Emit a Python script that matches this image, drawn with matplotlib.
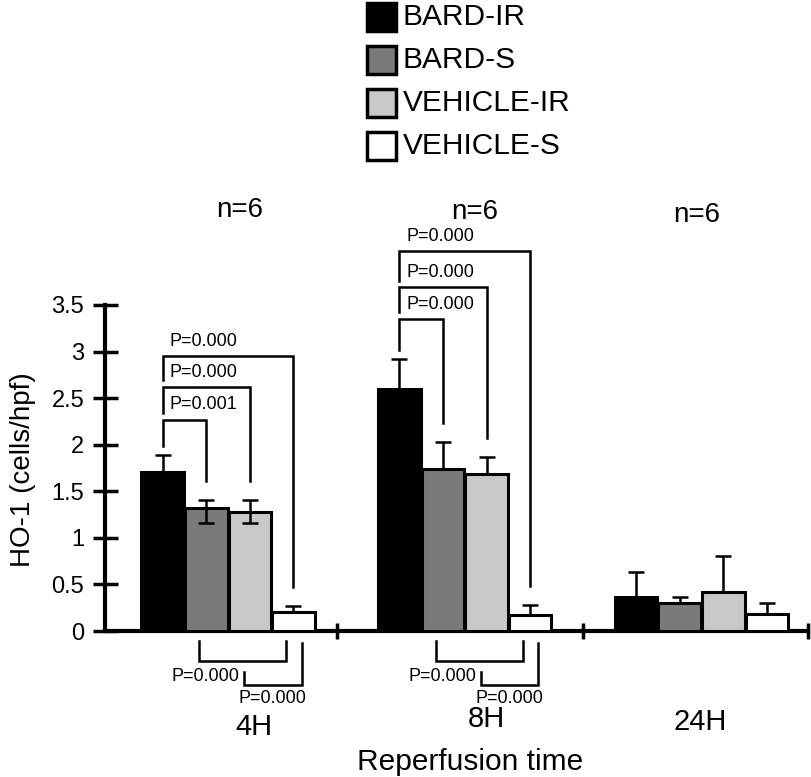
import numpy as np
import matplotlib
matplotlib.use('Agg')
from matplotlib import pyplot as plt
from matplotlib.patches import Rectangle

plt.rcParams['font.family'] = ['Liberation Sans', 'DejaVu Sans']

# Data
groups = ['4H', '8H', '24H']
series = ['BARD-IR', 'BARD-S', 'VEHICLE-IR', 'VEHICLE-S']
colors = ['#000000', '#7a7a7a', '#c8c8c8', '#ffffff']

bard_ir = [1.71, 2.60, 0.37]
bard_s = [1.32, 1.74, 0.30]
vehicle_ir = [1.28, 1.69, 0.42]
vehicle_s = [0.20, 0.17, 0.18]

bard_ir_err = [0.18, 0.32, 0.26]
bard_s_err = [0.09, 0.29, 0.07]
vehicle_ir_err = [0.13, 0.18, 0.39]
vehicle_s_err = [0.07, 0.11, 0.12]

# lower whiskers visible only on some bars
bard_ir_low = [0, 0, 0]
bard_s_low = [0.16, 0, 0]
vehicle_ir_low = [0.12, 0, 0]
vehicle_s_low = [0, 0, 0]

n_labels = ['n=6', 'n=6', 'n=6']

# significance brackets above (BARD-IR vs others), levels in y units
top_p_4h = ['P=0.001', 'P=0.000', 'P=0.000']
top_lvl_4h = [2.27, 2.62, 2.95]
top_p_8h = ['P=0.000', 'P=0.000', 'P=0.000']
top_lvl_8h = [3.35, 3.69, 4.08]
# brackets below the axis (BARD-S vs VEHICLE-S, VEHICLE-IR vs VEHICLE-S)
low_p = ['P=0.000', 'P=0.000']

means = [bard_ir, bard_s, vehicle_ir, vehicle_s]
errs_up = [bard_ir_err, bard_s_err, vehicle_ir_err, vehicle_s_err]
errs_low = [bard_ir_low, bard_s_low, vehicle_ir_low, vehicle_s_low]

fig = plt.figure(figsize=(8.12, 7.77), dpi=100)
ax = fig.add_axes([0.1293, 0.1879, 0.8658, 0.4196])

x = np.arange(len(groups))
w = 0.18
offs = [0.02 + (i - 1.5) * 0.184 for i in range(4)]

for i in range(4):
    ax.bar(x + offs[i], means[i], w, color=colors[i], edgecolor='black',
           linewidth=2.2, zorder=3, label=series[i])
    ax.errorbar(x + offs[i], means[i], yerr=[errs_low[i], errs_up[i]],
                fmt='none', ecolor='black', elinewidth=1.8, capsize=6,
                capthick=1.8, zorder=4)

ax.set_xlim(-0.5, 2.47)
ax.set_ylim(0, 3.5)
ax.set_yticks(np.arange(0, 3.51, 0.5))
ax.set_yticklabels(['0', '0.5', '1', '1.5', '2', '2.5', '3', '3.5'], fontsize=17)
ax.set_xticks([0.48, 1.52, 2.47])
ax.set_xticklabels([])
ax.tick_params(axis='y', direction='inout', length=18, width=2.5, pad=6)
ax.tick_params(axis='x', direction='inout', length=12, width=2.5)
for s in ['top', 'right']:
    ax.spines[s].set_visible(False)
for s in ['left', 'bottom']:
    ax.spines[s].set_linewidth(3)

lw = 1.8


def line(xs, ys):
    ax.plot(xs, ys, color='black', lw=lw, clip_on=False, zorder=5,
            solid_joinstyle='miter')


def top_brackets(g, levels, labels):
    xl = g + offs[0]
    left_bottom = means[0][g] + errs_up[0][g] + 0.1
    for k in range(3):
        j = k + 1
        xr = g + offs[j]
        right_bottom = means[j][g] + errs_up[j][g] + 0.2
        h = levels[k]
        line([xl, xl, xr, xr], [left_bottom, h, h, right_bottom])
        ax.text(xl + 0.03, h + 0.16, labels[k], fontsize=13, va='center',
                ha='left', clip_on=False)
        left_bottom = h + 0.07


top_brackets(0, top_lvl_4h, top_p_4h)
top_brackets(1, top_lvl_8h, top_p_8h)

for g in [0, 1]:
    # bracket A: BARD-S vs VEHICLE-S
    xa0 = g + offs[1] - 0.03
    xa1 = g + offs[3] - 0.03
    line([xa0, xa0, xa1, xa1], [-0.107, -0.322, -0.322, -0.107])
    # bracket B: VEHICLE-IR vs VEHICLE-S
    xb0 = g + offs[2] - 0.025
    xb1 = g + offs[3] + 0.035
    line([xb0, xb0, xb1, xb1], [-0.44, -0.58, -0.58, -0.129])
    ax.text(xb0 - 0.02, -0.49, low_p[0], fontsize=13, ha='right', va='center',
            clip_on=False)
    ax.text((xb0 + xb1) / 2, -0.72, low_p[1], fontsize=13, ha='center',
            va='center', clip_on=False)

n_x = [0.07, 1.06, 2.0]
n_y = [4.52, 4.50, 4.47]
for i in range(3):
    ax.text(n_x[i], n_y[i], n_labels[i], fontsize=20, ha='center',
            va='center', clip_on=False)

g_x = [0.128, 1.112, 2.016]
g_y = [-1.03, -0.95, -0.98]
for i in range(3):
    ax.text(g_x[i], g_y[i], groups[i], fontsize=21, ha='center',
            va='center', clip_on=False)

fig.text(0.579, 0.019, 'Reperfusion time', fontsize=21.5, ha='center',
         va='center')
fig.text(0.028, 0.395, 'HO-1 (cells/hpf)', fontsize=20, ha='center',
         va='center', rotation=90)

# legend drawn by hand
leg_y = [17, 60, 103, 146]
for i in range(4):
    yc = 1 - leg_y[i] / 777
    fig.patches.append(Rectangle((367 / 812, yc - 14 / 777), 29 / 812, 28 / 777,
                                 transform=fig.transFigure, facecolor=colors[i],
                                 edgecolor='black', linewidth=2.5))
    fig.text(403 / 812, yc, series[i], fontsize=21.5, ha='left', va='center')

fig.savefig('out.png', dpi=100)
